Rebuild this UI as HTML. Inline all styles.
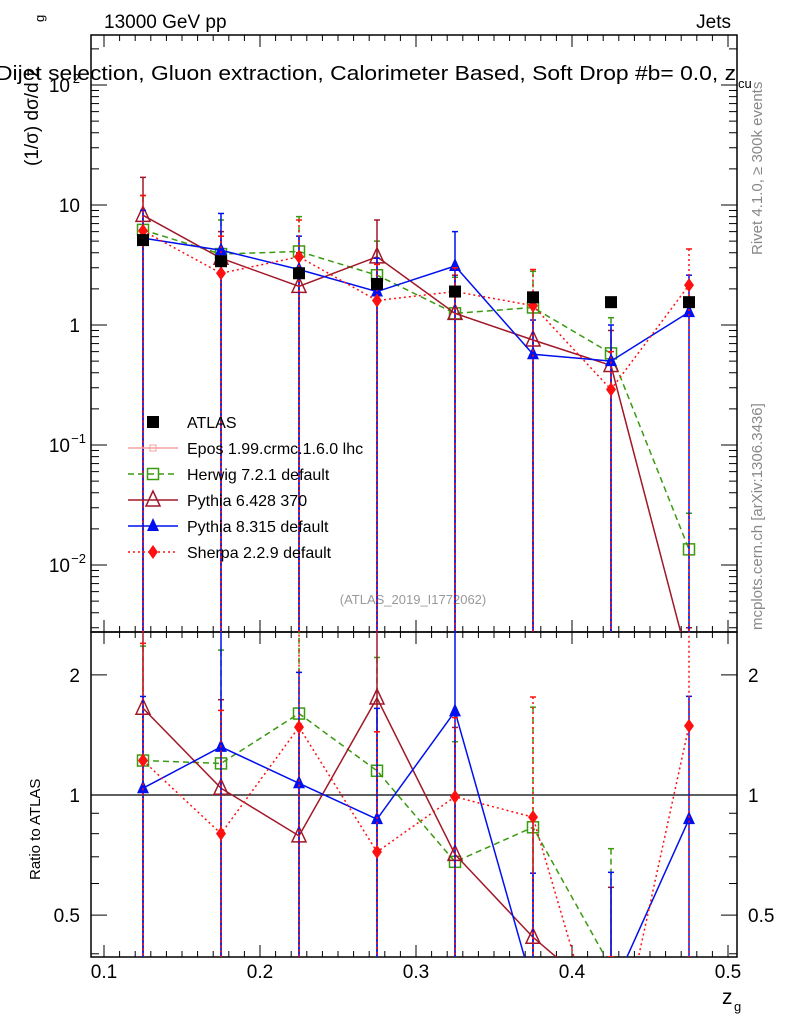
<!DOCTYPE html>
<html><head><meta charset="utf-8"><style>
html,body{margin:0;background:#fff;width:786px;height:1024px;overflow:hidden;}
svg{display:block;font-family:"Liberation Sans",sans-serif;}
</style></head><body>
<svg id="c" width="786" height="1024"></svg>
<script>
const xs=[0.125,0.175,0.225,0.275,0.325,0.375,0.425,0.475];
const atlas=[5.1,3.4,2.7,2.2,1.9,1.7,1.55,1.55];
const herwig=[6.2,3.9,4.1,2.6,1.25,1.4,0.58,0.0135];
const py6=[8.2,3.6,2.1,3.7,1.25,0.75,0.46,0.0015];
const py8=[5.3,4.2,2.9,1.9,3.1,0.57,0.5,1.28];
const sherpa=[6.1,2.7,3.7,1.6,1.9,1.45,0.29,2.15];
const herwigUp=[12,7.5,8,5,2.5,2.8,1.15,0.027];
const py6Up=[17,6,4,7.5,2.6,1.5,0.9,0.003];
const py8Up=[9,8.5,5.5,3.6,6,1.1,1.0,2.6];
const sherpaUp=[12,5.5,7.5,3.2,3,2.9,0.6,4.3];
const rHerwig=[1.22,1.20,1.60,1.15,0.68,0.83,0.37,0.009];
const rPy6=[1.65,1.04,0.79,1.75,0.71,0.44,0.30,0.001];
const rPy8=[1.04,1.32,1.07,0.87,1.62,0.33,0.32,0.87];
const rSherpa=[1.22,0.80,1.48,0.72,0.99,0.88,0.19,1.49];
const xTicks=[0.1,0.2,0.3,0.4,0.5];
const L=91,R=737,T=35,M=632,B=957;
const X=v=>104+(v-0.1)*1560;
const Y=v=>325-120*Math.log10(v);
const YR=v=>795-399*Math.log10(v);
const svg=document.getElementById('c');
const NS='http://www.w3.org/2000/svg';
function el(tag,attrs,parent,text){const e=document.createElementNS(NS,tag);for(const k in attrs)e.setAttribute(k,attrs[k]);if(text!==undefined)e.textContent=text;(parent||svg).appendChild(e);return e;}
const defs=el('defs',{});
const cp1=el('clipPath',{id:'cm'},defs);el('rect',{x:L,y:T,width:R-L,height:M-T},cp1);
const cp2=el('clipPath',{id:'cr'},defs);el('rect',{x:L,y:M,width:R-L,height:B-M},cp2);
const f1=el('rect',{x:L,y:T,width:R-L,height:M-T,fill:'none',stroke:'#000','stroke-width':1.5});

const f2=el('rect',{x:L,y:M,width:R-L,height:B-M,fill:'none',stroke:'#000','stroke-width':1.5});

for(let v=0.1;v<=0.5001;v+=0.01){const x=X(v);const maj=Math.abs(v*10-Math.round(v*10))<1e-6;const len=maj?12:6;
 for(const [y0,y1] of [[M,M-len],[T,T+len],[B,B-len],[M,M+len]]) el('line',{x1:x,x2:x,y1:y0,y2:y1,stroke:'#000'});}
xTicks.forEach(v=>{const t=el('text',{x:X(v),y:978,'font-size':19,'text-anchor':'middle'},svg,v.toFixed(1));
 });
for(let d=-3;d<=2;d++){for(let m=1;m<10;m++){const v=m*Math.pow(10,d);const y=Y(v);if(y<T||y>M)continue;const len=m==1?16:8;
 el('line',{x1:L,x2:L+len,y1:y,y2:y,stroke:'#000'});el('line',{x1:R,x2:R-len,y1:y,y2:y,stroke:'#000'});}}
const yl=[[100,'10','2'],[10,'10',''],[1,'1',''],[0.1,'10','−1'],[0.01,'10','−2']];
yl.forEach(([v,b,e])=>{const t=el('text',{x:e?70:80,y:Y(v)+7,'font-size':19,'text-anchor':'end'},svg,b);
 
 if(e){el('text',{x:e.length>1?86:80,y:Y(v)-2,'font-size':13,'text-anchor':'end'},svg,e);}});
[0.4,0.5,0.6,0.7,0.8,0.9,1,2].forEach(v=>{const y=YR(v);const len=(v==1||v==2||v==0.5)?16:8;
 el('line',{x1:L,x2:L+len,y1:y,y2:y,stroke:'#000'});el('line',{x1:R,x2:R-len,y1:y,y2:y,stroke:'#000'});});
[[2,'2'],[1,'1'],[0.5,'0.5']].forEach(([v,s])=>{
 const a=el('text',{x:80,y:YR(v)+7,'font-size':19,'text-anchor':'end'},svg,s);
 const b=el('text',{x:748,y:YR(v)+7,'font-size':19},svg,s);});
el('line',{x1:L,x2:R,y1:YR(1),y2:YR(1),stroke:'#000','stroke-width':1.2});
const tt=[[104,28,'13000 GeV pp',19,'start','energy-label'],[731,28,'Jets',19,'end','process-label'],
 [413,604,'(ATLAS_2019_I1772062)',13,'middle','analysis-id']];
tt.forEach(([x,y,s,fs,a,n])=>{const t=el('text',{x:x,y:y,'font-size':fs,'text-anchor':a,fill:n=='analysis-id'?'#999':'#000'},svg,s);});
const ti=el('text',{x:-4,y:80,'font-size':20,textLength:740,lengthAdjust:'spacingAndGlyphs'},svg,'Dijet selection, Gluon extraction, Calorimeter Based, Soft Drop #b= 0.0, z');

el('text',{x:738,y:88,'font-size':13},svg,'cu');
const xt=el('text',{x:722,y:1004,'font-size':21},svg,'z');
el('text',{x:734,y:1011,'font-size':13},svg,'g');
const yt=el('text',{transform:'translate(38,166) rotate(-90)','font-size':19},svg,'(1/σ) dσ/d z');
el('text',{transform:'translate(44,22) rotate(-90)','font-size':13},svg,'g');
const rt=el('text',{transform:'translate(40,880) rotate(-90)','font-size':15},svg,'Ratio to ATLAS');
const rv=el('text',{transform:'translate(762,255) rotate(-90)','font-size':15,fill:'#888'},svg,'Rivet 4.1.0, ≥ 300k events');
const mc=el('text',{transform:'translate(762,630) rotate(-90)','font-size':15,fill:'#888'},svg,'mcplots.cern.ch [arXiv:1306.3436]');
function marker(g,type,x,y,col){
 if(type=='sq')el('rect',{x:x-6,y:y-6,width:12,height:12,fill:'#000'},g);
 if(type=='osq')el('rect',{x:x-5.5,y:y-5.5,width:11,height:11,fill:'none',stroke:col,'stroke-width':1.5},g);
 if(type=='otri')el('polygon',{points:`${x},${y-9} ${x-7},${y+6} ${x+7},${y+6}`,fill:'none',stroke:col,'stroke-width':1.5},g);
 if(type=='tri')el('polygon',{points:`${x},${y-8} ${x-6},${y+5} ${x+6},${y+5}`,fill:col},g);
 if(type=='dia')el('polygon',{points:`${x},${y-7} ${x-5},${y} ${x},${y+7} ${x+5},${y}`,fill:col},g);
}
const series=[
 {n:'herwig',c:'#3a9a10',d:'6,4',m:'osq',v:herwig,up:herwigUp,r:rHerwig,lab:'Herwig 7.2.1 default'},
 {n:'pythia6',c:'#a01828',d:'',m:'otri',v:py6,up:py6Up,r:rPy6,lab:'Pythia 6.428 370'},
 {n:'pythia8',c:'#0010ee',d:'',m:'tri',v:py8,up:py8Up,r:rPy8,lab:'Pythia 8.315 default'},
 {n:'sherpa',c:'#ff1010',d:'2,3',m:'dia',v:sherpa,up:sherpaUp,r:rSherpa,lab:'Sherpa 2.2.9 default'}];
series.forEach(s=>{
 const g=el('g',{'clip-path':'url(#cm)'});
 xs.forEach((x,i)=>{const up=Y(s.up[i]);el('line',{x1:X(x),x2:X(x),y1:up,y2:M,stroke:s.c,'stroke-width':1.5,'stroke-dasharray':s.d},g);
  el('line',{x1:X(x)-3,x2:X(x)+3,y1:up,y2:up,stroke:s.c,'stroke-width':1.5},g);});
 el('polyline',{points:xs.map((x,i)=>X(x)+','+Y(s.v[i])).join(' '),fill:'none',stroke:s.c,'stroke-width':1.5,'stroke-dasharray':s.d},g);
 xs.forEach((x,i)=>marker(g,s.m,X(x),Y(s.v[i]),s.c));
 const gr=el('g',{'clip-path':'url(#cr)'});
 xs.forEach((x,i)=>{const up=YR(s.r[i]*s.up[i]/s.v[i]);el('line',{x1:X(x),x2:X(x),y1:up,y2:B,stroke:s.c,'stroke-width':1.5,'stroke-dasharray':s.d},gr);
  el('line',{x1:X(x)-3,x2:X(x)+3,y1:up,y2:up,stroke:s.c,'stroke-width':1.5},gr);});
 el('polyline',{points:xs.map((x,i)=>X(x)+','+YR(s.r[i])).join(' '),fill:'none',stroke:s.c,'stroke-width':1.5,'stroke-dasharray':s.d},gr);
 xs.forEach((x,i)=>marker(gr,s.m,X(x),YR(s.r[i]),s.c));
});
const ga=el('g',{});
xs.forEach((x,i)=>marker(ga,'sq',X(x),Y(atlas[i]),'#000'));
const leg=[['ATLAS','#000','','sq'],['Epos 1.99.crmc.1.6.0 lhc','#f4a0a0','','epos'],...series.map(s=>[s.lab,s.c,s.d,s.m])];
leg.forEach(([lab,c,d,m],i)=>{const y=422+i*26;const g=el('g',{});
 if(i>0)el('line',{x1:128,x2:178,y1:y,y2:y,stroke:c,'stroke-width':1.5,'stroke-dasharray':d},g);
 if(m=='epos'){el('rect',{x:150,y:y-3,width:6,height:6,fill:'none',stroke:c},g);}else marker(g,m,153,y,c);
 el('text',{x:187,y:y+6,'font-size':16},g,lab);});
</script>
</body></html>
